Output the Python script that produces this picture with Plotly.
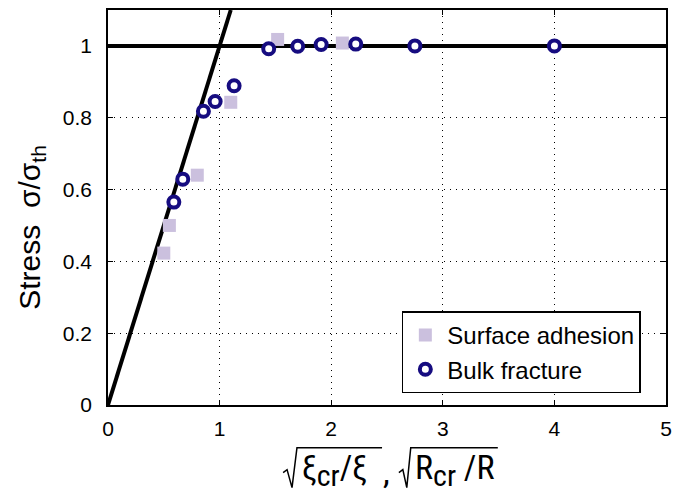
import plotly.graph_objects as go

# Data
surface_x = [0.50, 0.55, 0.80, 1.10, 1.52, 2.10]
surface_y = [0.423, 0.500, 0.640, 0.843, 1.018, 1.008]

bulk_x = [0.59, 0.67, 0.855, 0.96, 1.13, 1.44, 1.70, 1.91, 2.22, 2.75, 4.00]
bulk_y = [0.565, 0.629, 0.818, 0.845, 0.889, 0.992, 0.999, 1.004, 1.005, 1.000, 1.000]

linear_x = [0, 1.1]
linear_y = [0, 1.1]
plateau_x = [0, 5]
plateau_y = [1, 1]

x_ticks = [0, 1, 2, 3, 4, 5]
y_ticks = [0, 0.2, 0.4, 0.6, 0.8, 1]

FONT = "Liberation Sans, Arial, sans-serif"
TITLE_FONT = "Roboto Condensed, Liberation Sans, sans-serif"

W, H = 680, 496
ML, MR, MT, MB = 108, 8, 8, 91
PW, PH = W - ML - MR, H - MT - MB


def px(x):
    return (x - ML) / PW


def py(y):
    return (H - MB - y) / PH


fig = go.Figure()
fig.add_trace(go.Scatter(x=linear_x, y=linear_y, mode="lines",
                         line=dict(color="black", width=4), showlegend=False))
fig.add_trace(go.Scatter(x=plateau_x, y=plateau_y, mode="lines",
                         line=dict(color="black", width=4), showlegend=False))
fig.add_trace(go.Scatter(x=surface_x, y=surface_y, mode="markers",
                         name="Surface adhesion",
                         marker=dict(symbol="square", size=13, color="#cbc0de",
                                     line=dict(width=0))))
fig.add_trace(go.Scatter(x=bulk_x, y=bulk_y, mode="markers",
                         name="Bulk fracture",
                         marker=dict(symbol="circle", size=11, color="white",
                                     line=dict(width=4, color="#160c80"))))

axis_common = dict(showline=True, linecolor="black", linewidth=1.5, mirror="ticks",
                   ticks="inside", ticklen=5, tickcolor="black",
                   showgrid=True, gridcolor="black", griddash="1px,5px", gridwidth=1,
                   zeroline=False, tickfont=dict(size=21, color="black", family=FONT))

fig.update_xaxes(range=[0, 5], tickvals=x_ticks, ticklabelstandoff=4, **axis_common)
fig.update_yaxes(range=[0, 1.1], tickvals=y_ticks, ticklabelstandoff=10, **axis_common)

# y-axis title
fig.add_annotation(xref="paper", yref="paper", x=px(31), y=py(226), xanchor="center",
                   yanchor="middle", showarrow=False, textangle=-90,
                   text="Stress  σ/σ<sub>th</sub>",
                   font=dict(size=30, color="black", family=FONT))

# x-axis title: two radicals
for txt, x0 in [("ξ<sub><span style='font-size:30px'>cr</span></sub>/ξ", 302),
                ("R<sub><span style='font-size:30px'>cr</span></sub> /R", 416)]:
    fig.add_annotation(xref="paper", yref="paper", x=px(x0), y=py(470), xanchor="left",
                       yanchor="middle", showarrow=False, text=txt,
                       font=dict(size=34, color="black", family=TITLE_FONT))
fig.add_annotation(xref="paper", yref="paper", x=px(384), y=py(472), xanchor="left",
                   yanchor="middle", showarrow=False, text=",",
                   font=dict(size=34, color="black", family=TITLE_FONT))

for pts in [[(285, 473), (289, 470), (294, 488), (299, 448), (385, 448)],
            [(402, 473), (406, 470), (410, 488), (414, 448), (502, 448)]]:
    path = "M " + " L ".join(f"{px(a):.5f},{py(b):.5f}" for a, b in pts)
    fig.add_shape(type="path", xref="paper", yref="paper", path=path,
                  line=dict(color="black", width=1.5))

fig.update_layout(
    width=W, height=H,
    margin=dict(l=ML, r=MR, t=MT, b=MB),
    paper_bgcolor="white", plot_bgcolor="white",
    font=dict(family=FONT, color="black"),
    legend=dict(x=px(405), y=py(311), xanchor="left", yanchor="top",
                bordercolor="black", borderwidth=1.5, bgcolor="white",
                font=dict(size=24, color="black", family=FONT),
                itemwidth=34, tracegroupgap=0),
)

fig.write_html("out.html")
